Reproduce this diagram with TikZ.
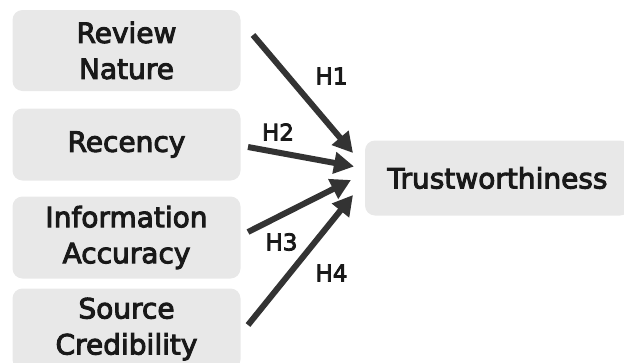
\documentclass[tikz,border=0pt]{standalone}
\usepackage{fontspec}
\setmainfont{DejaVu Sans}[FakeBold=3.5]
\usetikzlibrary{arrows.meta}
\definecolor{boxgray}{HTML}{E8E8E8}
\definecolor{arrowgray}{HTML}{333333}
\tikzset{
  factor/.style={fill=boxgray, rounded corners=10pt, inner sep=0pt,
    minimum width=228pt, align=center, text=black!90,
    font=\fontsize{28}{36}\selectfont},
  hyp/.style={draw=arrowgray, line width=6pt,
    -{Triangle[length=20pt,width=21pt]}},
  hlabel/.style={font=\fontsize{23}{26}\selectfont, text=black!90, inner sep=0pt}
}
\begin{document}
\begin{tikzpicture}[x=1pt,y=-1pt]
\useasboundingbox (0,0) rectangle (624,362);
\node[factor, minimum height=81pt] (rn) at (126.5,50.5) {Review\\Nature};
\node[factor, minimum height=72pt] (rc) at (126.5,144.5) {Recency};
\node[factor, minimum height=82pt] (ia) at (126.5,237.5) {Information\\Accuracy};
\node[factor, minimum height=81pt] (sc) at (126.5,329) {Source\\Credibility};
\node[factor, minimum width=265pt, minimum height=75pt] (tw) at (497.5,178) {Trustworthiness};
\coordinate (s1) at (253,35);
\coordinate (e1) at (353,153);
\coordinate (s2) at (248,147);
\coordinate (e2) at (354,166.5);
\coordinate (s3) at (248,232);
\coordinate (e3) at (351,180);
\coordinate (s4) at (248,325);
\coordinate (e4) at (353,195);
\draw[hyp] (s1) -- (e1);
\draw[hyp] (s2) -- (e2);
\draw[hyp] (s3) -- (e3);
\draw[hyp] (s4) -- (e4);
\node[hlabel] (h1) at (331.5,76) {H1};
\node[hlabel] (h2) at (278,132) {H2};
\node[hlabel] (h3) at (281.5,242) {H3};
\node[hlabel] (h4) at (331.5,273) {H4};
\end{tikzpicture}
\end{document}
